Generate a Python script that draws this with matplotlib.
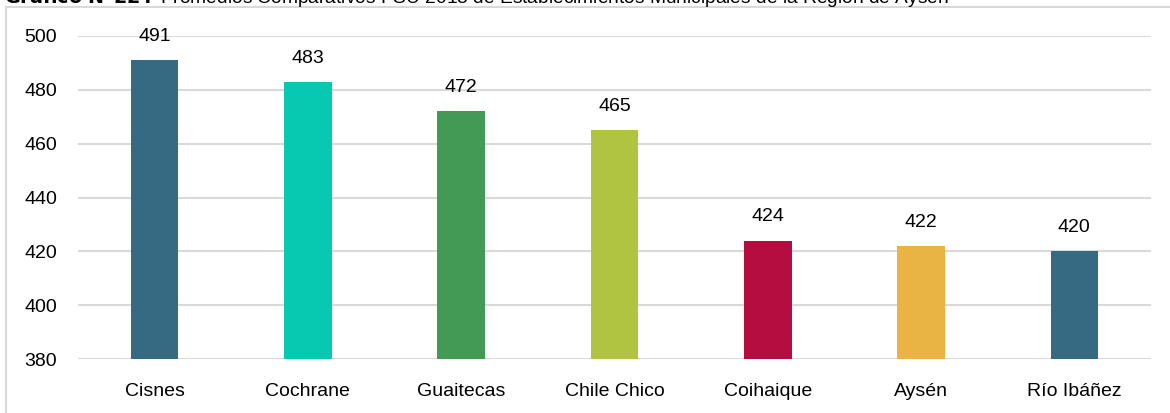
import matplotlib
matplotlib.use("Agg")
import matplotlib.pyplot as plt
from matplotlib.lines import Line2D

plt.rcParams['font.family'] = ['Liberation Sans', 'DejaVu Sans']

categories = ["Cisnes", "Cochrane", "Guaitecas", "Chile Chico", "Coihaique", "Aysén", "Río Ibáñez"]
values = [491, 483, 472, 465, 424, 422, 420]
colors = ["#356A82", "#07C8B0", "#439A55", "#B0C441", "#B50D3F", "#E9B444", "#356A82"]
yticks = [380, 400, 420, 440, 460, 480, 500]

fig = plt.figure(figsize=(11.7, 4.13), dpi=100)
ax = fig.add_axes([78/1170, (413-359)/413, (1151-78)/1170, (359-36)/413])

x = list(range(len(categories)))
ax.bar(x, values, width=0.31, color=colors, zorder=2)
ax.set_ylim(380, 500)
ax.set_xlim(-0.5, len(categories) - 0.5)
ax.set_yticks(yticks)
ax.set_yticklabels([str(t) for t in yticks])
ax.set_xticks(x)
ax.set_xticklabels(categories)
ax.tick_params(axis='both', length=0, labelsize=14, colors='black')
ax.tick_params(axis='y', pad=15)
ax.tick_params(axis='x', pad=17)
ax.grid(axis='y', color='#D9D9D9', linewidth=1.5, zorder=0)
for s in ax.spines.values():
    s.set_visible(False)

for xi, v in zip(x, values):
    ax.annotate(str(v), (xi, v), xytext=(0, 17), textcoords='offset points',
                ha='center', va='center', fontsize=14, zorder=3)

# outer frame (top and left)
fig.add_artist(Line2D([6/1170, 6/1170], [0, 1 - 7/413], color='#D9D9D9', linewidth=1.5, transform=fig.transFigure))
fig.add_artist(Line2D([6/1170, 1], [1 - 7/413, 1 - 7/413], color='#D9D9D9', linewidth=1.5, transform=fig.transFigure))

# clipped title
fig.text(4/1170, 1 + 3/413, r"$\bf{Gráfico\ N°22:}$ Promedios Comparativos PSU 2018 de Establecimientos Municipales de la Región de Aysén",
         ha='left', va='center', fontsize=13.8)

fig.savefig("out.png", dpi=100)
